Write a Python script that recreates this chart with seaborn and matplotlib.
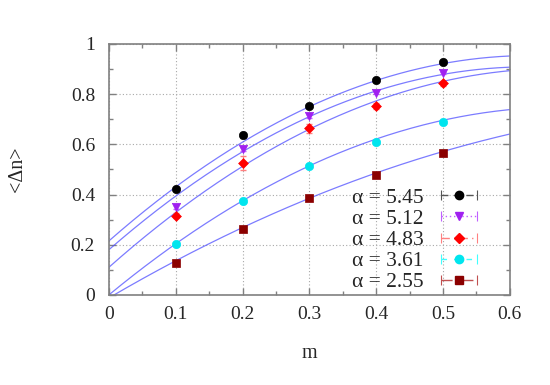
import numpy as np
import pandas as pd
import seaborn as sns
import matplotlib.pyplot as plt
from matplotlib.lines import Line2D
from matplotlib.legend_handler import HandlerLine2D
from matplotlib.ticker import MultipleLocator

# data
m = [0.1, 0.2, 0.3, 0.4, 0.5]
alpha_labels = ['5.45', '5.12', '4.83', '3.61', '2.55']
dn_545 = [0.421, 0.637, 0.754, 0.855, 0.927]
dn_512 = [0.352, 0.580, 0.714, 0.806, 0.884]
dn_483 = [0.315, 0.525, 0.664, 0.754, 0.843]
dn_361 = [0.202, 0.373, 0.514, 0.610, 0.690]
dn_255 = [0.129, 0.262, 0.385, 0.478, 0.567]
err_545 = [0.006, 0.010, 0.006, 0.006, 0.005]
err_512 = [0.010, 0.008, 0.008, 0.006, 0.005]
err_483 = [0.010, 0.028, 0.018, 0.012, 0.010]
err_361 = [0.005, 0.005, 0.005, 0.005, 0.005]
err_255 = [0.006, 0.006, 0.006, 0.006, 0.012]

# quadratic fit coefficients  <dn> = c0 + c1*m + c2*m^2
fit_c0 = [0.215, 0.180, 0.110, 0.000, -0.012]
fit_c1 = [2.338, 2.322, 2.362, 2.197, 1.558]
fit_c2 = [-1.850, -1.850, -1.761, -1.611, -0.783]

xtick_vals = [0, 0.1, 0.2, 0.3, 0.4, 0.5, 0.6]
xtick_labels = ['0', '0.1', '0.2', '0.3', '0.4', '0.5', '0.6']
ytick_vals = [0, 0.2, 0.4, 0.6, 0.8, 1.0]
ytick_labels = ['0', '0.2', '0.4', '0.6', '0.8', '1']

series = [dn_545, dn_512, dn_483, dn_361, dn_255]
errors = [err_545, err_512, err_483, err_361, err_255]
colors = ['#000000', '#a020f0', '#ff0000', '#00e5ee', '#8b0000']
line_colors = ['#555555', '#c060ff', '#ff8080', '#40ffff', '#c05050']
markers = ['o', 'v', 'D', 'o', 's']
msizes = [6, 6, 5, 6, 6]
linestyles = [(0, (5, 4)), (0, (1, 2)), (0, (6, 3, 1, 3)), (0, (4, 5)), (0, (8, 3, 1, 3))]

sns.set_theme(style='ticks')
plt.rcParams['font.family'] = ['Liberation Serif', 'DejaVu Serif']

fig = plt.figure(figsize=(5.5, 3.85), dpi=100)
ax = fig.add_axes([0.198, 0.234, 0.729, 0.652])

# fit curves
mm = np.linspace(0, 0.6, 200)
for i in range(5):
    curve = pd.DataFrame({'m': mm, 'dn': fit_c0[i] + fit_c1[i] * mm + fit_c2[i] * mm ** 2})
    sns.lineplot(data=curve, x='m', y='dn', ax=ax, color='#5050ff', alpha=0.75, lw=0.9, zorder=2)

# data points with error bars
handles = []
hmap = {}
for i in range(5):
    ax.errorbar(m, series[i], yerr=errors[i], fmt='none', ecolor=line_colors[i], elinewidth=0.8,
                capsize=2.5, zorder=3)
    df = pd.DataFrame({'m': m, 'dn': series[i]})
    sns.scatterplot(data=df, x='m', y='dn', ax=ax, color=colors[i], marker=markers[i],
                    s=msizes[i] ** 2, edgecolor=colors[i], linewidth=0.5, zorder=4)
    lh = Line2D([], [], color=line_colors[i], ls=linestyles[i], lw=1, marker='|', markersize=7, mew=0.8)
    mh = Line2D([], [], color=colors[i], ls='none', marker=markers[i], markersize=msizes[i])
    hmap[lh] = HandlerLine2D(numpoints=2)
    hmap[mh] = HandlerLine2D(numpoints=1)
    handles.append((lh, mh))

ax.legend(handles, ['\u03b1 = ' + a for a in alpha_labels], markerfirst=False, frameon=False,
          loc='lower right', bbox_to_anchor=(0.935, 0.01), borderaxespad=0, borderpad=0,
          fontsize=15.5, handlelength=2.3, handletextpad=0.5, labelspacing=0.05, handler_map=hmap)

ax.set_xlim(0, 0.6)
ax.set_ylim(0, 1)
ax.set_xticks(xtick_vals)
ax.set_xticklabels(xtick_labels)
ax.set_yticks(ytick_vals)
ax.set_yticklabels(ytick_labels)
ax.xaxis.set_minor_locator(MultipleLocator(0.05))
ax.yaxis.set_minor_locator(MultipleLocator(0.1))
ax.tick_params(which='both', direction='in', top=True, right=True, color='#808080', labelsize=14)
ax.tick_params(axis='x', which='major', pad=8)
ax.tick_params(axis='y', which='major', pad=10)
ax.tick_params(which='major', length=5, width=1)
ax.tick_params(which='minor', length=3, width=1)
ax.grid(True, which='major', ls=(0, (1, 2)), color='#a8a8a8', lw=0.8)
for s in ax.spines.values():
    s.set_color('#808080')
    s.set_linewidth(1.2)

ax.set_xlabel('m', fontsize=14.5, va='baseline')
ax.xaxis.set_label_coords(0.501, -0.251)
ax.set_ylabel('<\u0394n>', fontsize=14.5, va='center', ha='center')
ax.yaxis.set_label_coords(-0.229, 0.5)

fig.savefig('out.png', dpi=100)
